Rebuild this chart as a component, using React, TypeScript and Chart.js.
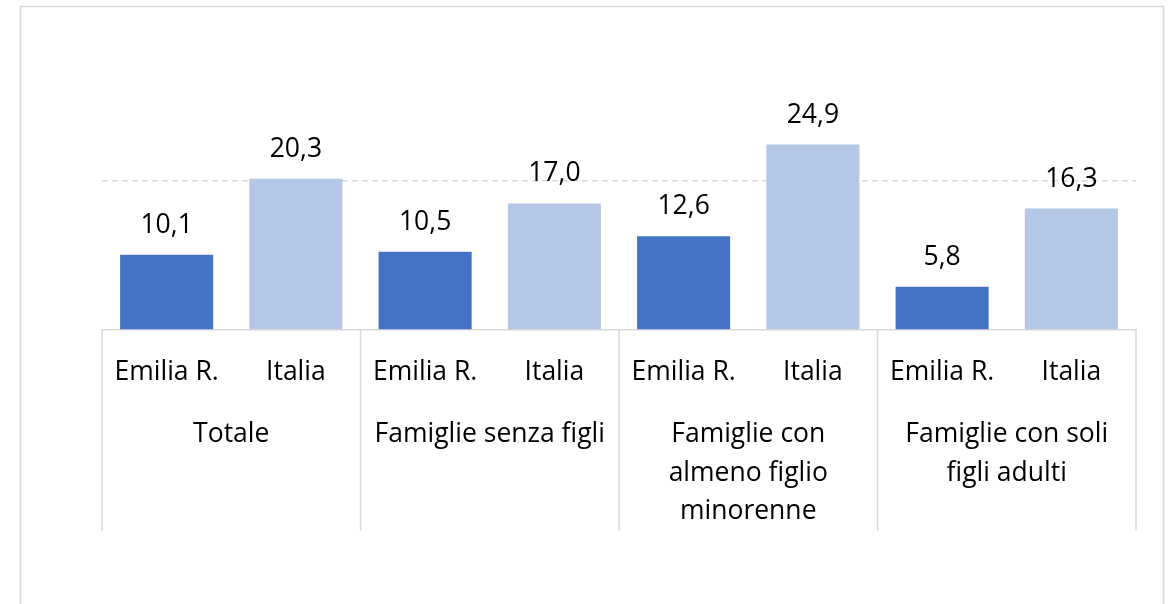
import React, { useEffect, useRef } from 'react';
import { Chart, registerables } from 'chart.js';

Chart.register(...registerables);

const groupLabels: string[][] = [
  ['Totale'],
  ['Famiglie senza figli'],
  ['Famiglie con', 'almeno figlio', 'minorenne'],
  ['Famiglie con soli', 'figli adulti'],
];
const seriesNames = ['Emilia R.', 'Italia'];
const emiliaValues = [10.1, 10.5, 12.6, 5.8];
const italiaValues = [20.3, 17.0, 24.9, 16.3];
const seriesColors = ['#4472C4', '#B4C7E7'];
const gridValue = 20;
const yMax = 40;

const FONT = '"Open Sans", Lato, sans-serif';
const FONT_SIZE = 26.5;
const LINE_COLOR = '#d9d9d9';

const subLabels: string[] = [];
const barValues: number[] = [];
const barColors: string[] = [];
groupLabels.forEach((_, g) => {
  subLabels.push(seriesNames[0], seriesNames[1]);
  barValues.push(emiliaValues[g], italiaValues[g]);
  barColors.push(seriesColors[0], seriesColors[1]);
});

const fmt = (v: number) => v.toFixed(1).replace('.', ',');

const decorPlugin = {
  id: 'decor',
  beforeDraw(chart: any) {
    const ctx = chart.ctx;
    ctx.save();
    ctx.strokeStyle = LINE_COLOR;
    ctx.lineWidth = 1.5;
    ctx.strokeRect(20.5, 6.5, 1143, 660);
    ctx.restore();
  },
  afterDatasetsDraw(chart: any) {
    const ctx = chart.ctx;
    const meta = chart.getDatasetMeta(0);
    ctx.save();
    ctx.font = `${FONT_SIZE}px ${FONT}`;
    ctx.fillStyle = '#000';
    ctx.textAlign = 'center';
    ctx.textBaseline = 'alphabetic';
    meta.data.forEach((bar: any, i: number) => {
      ctx.fillText(fmt(barValues[i]), bar.x, bar.y - 22);
    });
    ctx.restore();
  },
  afterDraw(chart: any) {
    const ctx = chart.ctx;
    const xs = chart.scales.x;
    const x2 = chart.scales.x2;
    const half = (xs.getPixelForValue(1) - xs.getPixelForValue(0)) / 2;
    ctx.save();
    ctx.strokeStyle = LINE_COLOR;
    ctx.lineWidth = 1.5;
    for (let g = 0; g <= groupLabels.length; g++) {
      const idx = g * 2;
      const px = g < groupLabels.length
        ? xs.getPixelForValue(idx) - half
        : xs.getPixelForValue(idx - 1) + half;
      ctx.beginPath();
      ctx.moveTo(px, chart.chartArea.bottom);
      ctx.lineTo(px, x2.bottom);
      ctx.stroke();
    }
    ctx.restore();
  },
};

export default function App() {
  const ref = useRef<HTMLCanvasElement | null>(null);
  useEffect(() => {
    if (!ref.current) return;
    const chart = new Chart(ref.current, {
      type: 'bar',
      data: {
        labels: subLabels,
        datasets: [
          {
            data: barValues,
            backgroundColor: barColors,
            categoryPercentage: 1,
            barPercentage: 0.72,
            xAxisID: 'x',
            yAxisID: 'y',
          },
        ],
      },
      options: {
        animation: false,
        responsive: false,
        maintainAspectRatio: false,
        layout: { padding: { left: 102, right: 35, top: 32, bottom: 73 } },
        plugins: { legend: { display: false }, tooltip: { enabled: false }, title: { display: false } },
        scales: {
          x: {
            type: 'category',
            position: 'bottom',
            weight: 0,
            offset: true,
            grid: { display: false, drawTicks: false },
            border: { display: true, color: LINE_COLOR, width: 1.5 },
            ticks: {
              color: '#000',
              font: { family: FONT, size: FONT_SIZE, lineHeight: 1.2 },
              padding: 26.8,
              autoSkip: false,
              maxRotation: 0,
              minRotation: 0,
            },
          },
          x2: {
            type: 'category',
            position: 'bottom',
            weight: 1,
            offset: true,
            labels: groupLabels as any,
            grid: { display: false, drawTicks: false },
            border: { display: false },
            ticks: {
              color: '#000',
              font: { family: FONT, size: FONT_SIZE, lineHeight: 1.453 },
              padding: 0,
              autoSkip: false,
              maxRotation: 0,
              minRotation: 0,
            },
          },
          y: {
            min: 0,
            max: yMax,
            display: true,
            ticks: { display: false, stepSize: gridValue },
            grid: {
              drawTicks: false,
              lineWidth: 1.5,
              color: (c: any) => (c.tick && c.tick.value === gridValue ? LINE_COLOR : 'rgba(0,0,0,0)'),
            },
            border: { display: false, dash: [6, 4] },
          },
        },
      },
      plugins: [decorPlugin],
    });
    return () => chart.destroy();
  }, []);
  return (
    <div style={{ position: 'fixed', left: 0, top: 0, width: 1171, height: 604, background: '#fff' }}>
      <canvas ref={ref} width={1171} height={604} style={{ display: 'block' }} />
    </div>
  );
}
